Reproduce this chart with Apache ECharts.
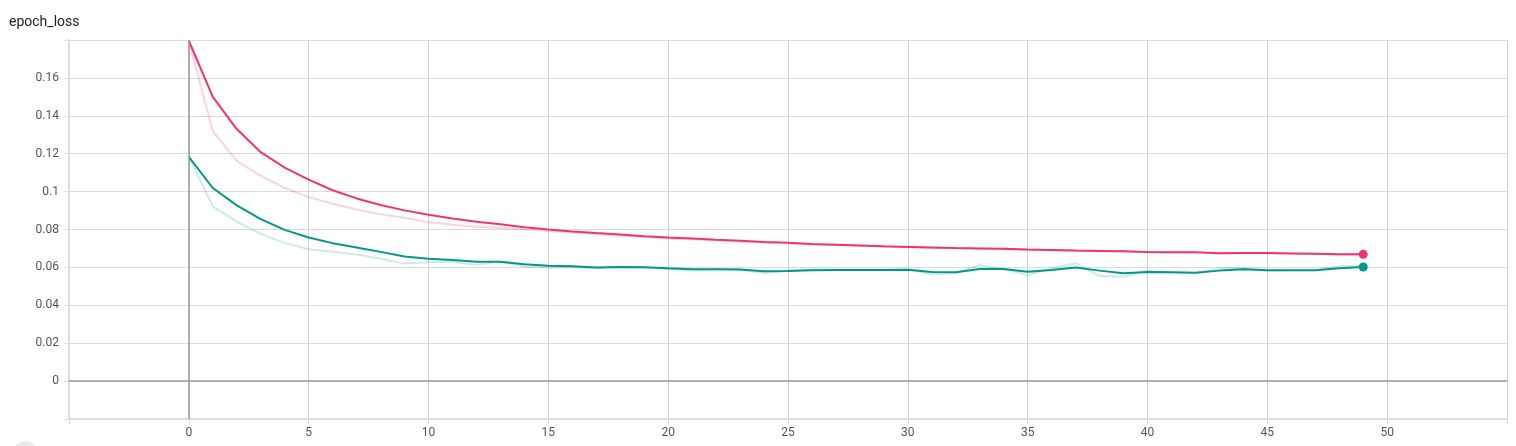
<!DOCTYPE html>
<html>
<head>
<meta charset="utf-8">
<script src="https://cdn.jsdelivr.net/npm/echarts@6/dist/echarts.min.js"></script>
<style>
html,body{margin:0;padding:0;background:#fff;}
#c{width:1516px;height:446px;}
</style>
</head>
<body>
<div id="c"></div>
<script>
const epochs = Array.from({length: 50}, (_, i) => i);
const pinkSmoothed = [0.1796,0.1500,0.1330,0.1208,0.1127,0.1063,0.1007,0.0964,0.0929,0.0901,
  0.0878,0.0858,0.0841,0.0828,0.0812,0.0800,0.0790,0.0781,0.0773,0.0765,
  0.0758,0.0752,0.0746,0.0741,0.0734,0.0730,0.0724,0.0720,0.0716,0.0711,
  0.0708,0.0705,0.0702,0.0700,0.0698,0.0694,0.0692,0.0689,0.0687,0.0685,
  0.0681,0.0680,0.0680,0.0675,0.0676,0.0676,0.0674,0.0672,0.0669,0.0669];
const pinkRaw = [0.1796,0.1319,0.1162,0.1083,0.1019,0.0971,0.0936,0.0906,0.0881,0.0862,
  0.0839,0.0825,0.0815,0.0808,0.0800,0.0793,0.0784,0.0776,0.0768,0.0760,
  0.0753,0.0748,0.0742,0.0737,0.0731,0.0727,0.0721,0.0718,0.0714,0.0709,
  0.0707,0.0703,0.0701,0.0699,0.0696,0.0692,0.0690,0.0688,0.0686,0.0684,
  0.0680,0.0680,0.0679,0.0673,0.0676,0.0675,0.0673,0.0671,0.0667,0.0668];
const tealSmoothed = [0.1183,0.1019,0.0927,0.0855,0.0798,0.0758,0.0728,0.0705,0.0682,0.0657,
  0.0646,0.0639,0.0630,0.0630,0.0616,0.0609,0.0606,0.0599,0.0602,0.0601,
  0.0595,0.0590,0.0590,0.0589,0.0580,0.0581,0.0585,0.0586,0.0586,0.0586,
  0.0588,0.0576,0.0574,0.0591,0.0591,0.0577,0.0586,0.0599,0.0583,0.0569,
  0.0576,0.0574,0.0572,0.0583,0.0590,0.0585,0.0585,0.0585,0.0595,0.0602];
const tealRaw = [0.1183,0.0922,0.0842,0.0777,0.0729,0.0696,0.0682,0.0668,0.0646,0.0620,
  0.0627,0.0630,0.0614,0.0630,0.0605,0.0600,0.0602,0.0594,0.0605,0.0600,
  0.0590,0.0585,0.0590,0.0588,0.0570,0.0582,0.0590,0.0587,0.0586,0.0586,
  0.0590,0.0562,0.0570,0.0612,0.0591,0.0560,0.0595,0.0622,0.0554,0.0551,
  0.0582,0.0573,0.0570,0.0595,0.0596,0.0582,0.0585,0.0585,0.0607,0.0607];
const title = 'epoch_loss';

const PINK = '#ee3377', TEAL = '#009988';
const pairs = arr => epochs.map((e, i) => [e, arr[i]]);
const lastSym = (arr) => pairs(arr).map((p, i) => i === arr.length - 1
  ? {value: p, symbol: 'circle', symbolSize: 9} : {value: p, symbol: 'none'});

const fmtY = v => {
  const r = Math.round(v * 100) / 100;
  if (Math.abs(r - 0.18) < 1e-9 || Math.abs(r + 0.02) < 1e-9) return '';
  return String(r);
};
const fmtX = v => (v === -5 || v === 55) ? '' : String(v);

const chart = echarts.init(document.getElementById('c'), null, {renderer: 'canvas'});
chart.setOption({
  animation: false,
  backgroundColor: '#fff',
  textStyle: {fontFamily: 'Roboto'},
  title: {text: title, left: 9, top: 15, padding: 0, textStyle: {fontSize: 14, fontWeight: 'normal', color: '#212121', fontFamily: 'Roboto'}},
  grid: {left: 69, right: 9, top: 40, bottom: 27, containLabel: false},
  xAxis: {
    type: 'value', min: -5, max: 55, interval: 5,
    axisLine: {show: true, onZero: false, lineStyle: {color: '#dcdcdc', width: 2}},
    axisTick: {show: true, length: 5, lineStyle: {color: '#dcdcdc'}},
    axisLabel: {formatter: fmtX, color: '#555', fontSize: 12, margin: 8},
    splitLine: {show: true, lineStyle: {color: '#d2d2d2', width: 1}}
  },
  yAxis: {
    type: 'value', min: -0.02, max: 0.18, interval: 0.02,
    axisLine: {show: true, onZero: false, lineStyle: {color: '#dcdcdc', width: 2}},
    axisTick: {show: true, length: 5, lineStyle: {color: '#dcdcdc'}},
    axisLabel: {formatter: fmtY, color: '#555', fontSize: 12, margin: 10},
    splitLine: {show: true, lineStyle: {color: '#dcdcdc', width: 1}}
  },
  graphic: [{type: 'circle', shape: {cx: 25, cy: 454, r: 13}, style: {fill: '#ebebeb'}, silent: true}],
  series: [
    {type: 'line', data: pairs(tealRaw), showSymbol: false, lineStyle: {color: TEAL, width: 2, opacity: 0.2}, z: 2,
      markLine: {silent: true, symbol: 'none', label: {show: false},
        lineStyle: {color: '#9a9a9a', width: 1.5, type: 'solid'},
        data: [{xAxis: 0}, {yAxis: 0}]}},
    {type: 'line', data: pairs(pinkRaw), showSymbol: false, lineStyle: {color: PINK, width: 2, opacity: 0.22}, z: 2},
    {type: 'line', data: lastSym(tealSmoothed), lineStyle: {color: TEAL, width: 2}, itemStyle: {color: TEAL}, z: 3},
    {type: 'line', data: lastSym(pinkSmoothed), lineStyle: {color: PINK, width: 2}, itemStyle: {color: PINK}, z: 3}
  ]
});
</script>
</body>
</html>
